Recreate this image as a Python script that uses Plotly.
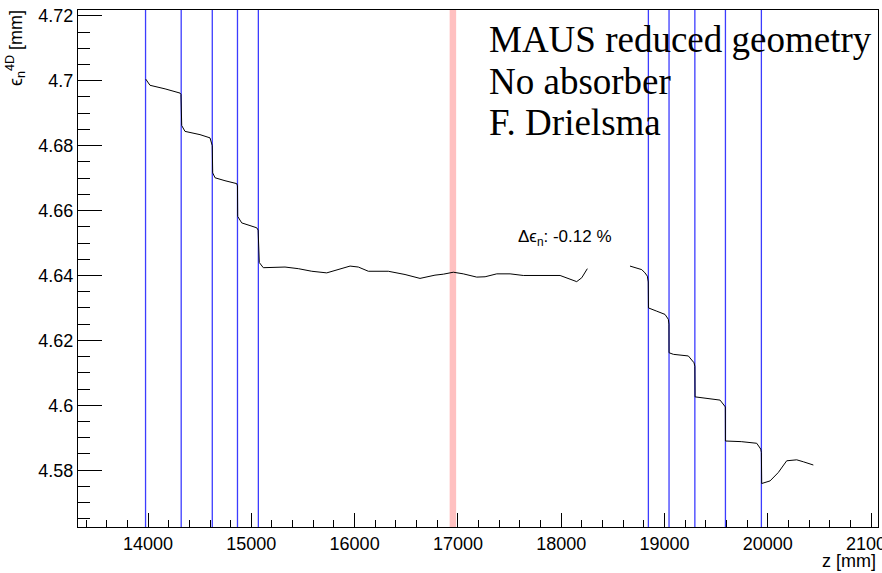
import plotly.graph_objects as go

# Emittance curve (z in mm, emittance in mm); None marks the gap
z_mm = [13978, 14019, 14165, 14310, 14319, 14326, 14358, 14503, 14600, 14617, 14622,
        14626, 14649, 14745, 14859, 14866, 14868, 14907, 14988, 15052, 15066,
        15072, 15077, 15116, 15198, 15326, 15455, 15585, 15730, 15827, 15956, 16036,
        16133, 16326, 16488, 16633, 16778, 16859, 16956, 17052, 17182, 17263, 17376,
        17505, 17633, 17989, 18053, 18150, 18199, 18253,
        None,
        18666, 18780, 18811, 18834, 18843, 18845, 18925, 19005, 19037, 19043,
        19044, 19086, 19231, 19286, 19294, 19296, 19538, 19576, 19589, 19590,
        19743, 19893, 19932, 19938, 19941, 20022, 20102, 20183, 20280, 20344, 20441]
emit_mm = [4.7005, 4.6986, 4.6975, 4.6962, 4.6958, 4.6862, 4.6844, 4.6834, 4.6824, 4.6810, 4.6800,
           4.6716, 4.6701, 4.6692, 4.6683, 4.6676, 4.6582, 4.6562, 4.6554, 4.6547, 4.6540,
           4.6450, 4.6440, 4.6424, 4.6424, 4.6426, 4.6421, 4.6413, 4.6408, 4.6416, 4.6429, 4.6426,
           4.6413, 4.6413, 4.6403, 4.6391, 4.6401, 4.6404, 4.6410, 4.6405, 4.6395, 4.6396, 4.6405,
           4.6405, 4.6400, 4.6400, 4.6393, 4.6381, 4.6393, 4.6421,
           None,
           4.6429, 4.6418, 4.6408, 4.6398, 4.6380, 4.6300, 4.6290, 4.6280, 4.6265, 4.6250,
           4.6162, 4.6157, 4.6152, 4.6131, 4.6120, 4.6026, 4.6016, 4.6001, 4.5995, 4.5890,
           4.5888, 4.5883, 4.5865, 4.5855, 4.5759, 4.5767, 4.5793, 4.5829, 4.5832, 4.5826, 4.5816]

# Tracker station planes (mm)
stations_mm = [13976, 14321, 14622, 14866, 15068, 18844, 19044, 19294, 19590, 19938]
# Absorber region band (mm)
absorber_band = [16920, 16983]

x_range = [13322, 21067]
y_range = [4.5625, 4.7218]

label_lines = ["MAUS reduced geometry", "No absorber", "F. Drielsma"]
delta_text = "Δϵ<sub>n</sub>: -0.12 %"

fig = go.Figure()

fig.add_shape(type="rect", x0=absorber_band[0], x1=absorber_band[1], y0=0, y1=1,
              xref="x", yref="paper", fillcolor="#ffc0c0", line=dict(width=0), layer="below")

# station lines as one trace
sx, sy = [], []
for zs in stations_mm:
    sx += [zs, zs, None]
    sy += [y_range[0], y_range[1], None]
fig.add_trace(go.Scatter(x=sx, y=sy, mode="lines", line=dict(color="#3c3cff", width=1.3),
                         showlegend=False, hoverinfo="skip"))

fig.add_trace(go.Scatter(x=z_mm, y=emit_mm, mode="lines",
                         line=dict(color="black", width=1), connectgaps=False,
                         showlegend=False))

tickfont = dict(family="Liberation Sans", size=18, color="black")

fig.update_layout(
    width=882, height=573,
    margin=dict(l=78, r=4, t=10, b=46),
    paper_bgcolor="white", plot_bgcolor="white",
    font=dict(family="Liberation Sans", size=18, color="black"),
    xaxis=dict(range=x_range, showgrid=False, zeroline=False, automargin=False,
               showline=True, linecolor="black", linewidth=1, mirror=True,
               ticks="inside", ticklen=14, tickcolor="black", tick0=0, dtick=1000,
               tickformat="d", tickfont=tickfont, ticklabeloverflow="allow",
               minor=dict(ticks="inside", ticklen=7, dtick=200, tickcolor="black")),
    yaxis=dict(range=y_range, showgrid=False, zeroline=False, automargin=False,
               showline=True, linecolor="black", linewidth=1, mirror=True,
               ticks="inside", ticklen=24, tickcolor="black", tick0=0, dtick=0.02,
               tickfont=tickfont,
               minor=dict(ticks="inside", ticklen=12, dtick=0.005, tickcolor="black")),
)

# Axis titles (ROOT style: aligned to the axis end)
fig.add_annotation(text="z [mm]", xref="paper", yref="paper", x=1, y=0,
                   xanchor="right", yanchor="middle", yshift=-34, showarrow=False,
                   font=dict(family="Liberation Sans", size=18, color="black"))
fig.add_annotation(text="ϵ<sub>n</sub><sup>4D</sup> [mm]", xref="paper", yref="paper",
                   x=0, y=1, xanchor="center", yanchor="top", xshift=-63, yshift=2,
                   textangle=-90, showarrow=False,
                   font=dict(family="Liberation Sans", size=18, color="black"))

for i, line in enumerate(label_lines):
    fig.add_annotation(text=line, xref="paper", yref="paper", x=(487 - 78) / 800,
                       y=1, xanchor="left", yanchor="top", yshift=-7 - 41.5 * i,
                       showarrow=False,
                       font=dict(family="Liberation Serif", size=37, color="black"))

fig.add_annotation(text=delta_text, x=18037, y=4.6514, xref="x", yref="y",
                   showarrow=False,
                   font=dict(family="Liberation Sans", size=17, color="black"))

fig.write_html("out.html")
